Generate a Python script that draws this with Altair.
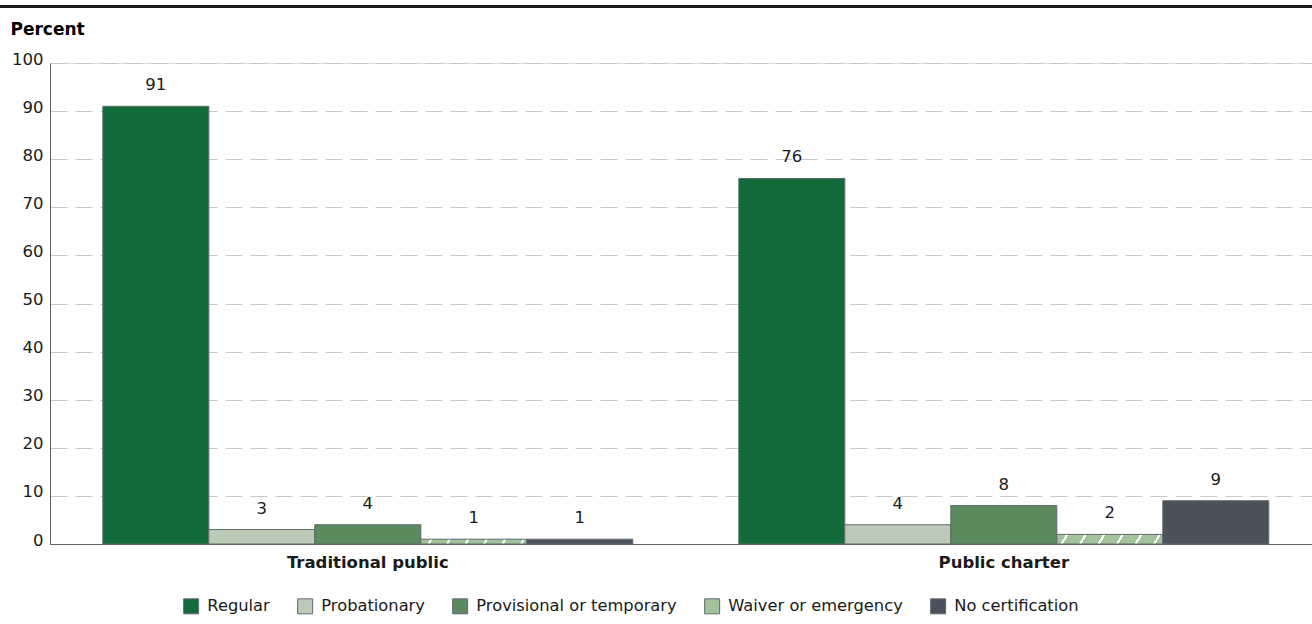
import altair as alt
import pandas as pd

# Share of teachers by certification status, by school sector
categories = ["Traditional public", "Public charter"]
cert_types = ["Regular", "Probationary", "Provisional or temporary",
              "Waiver or emergency", "No certification"]
traditional_pct = [91, 3, 4, 1, 1]
charter_pct = [76, 4, 8, 2, 9]
palette = ["#116b3a", "#bccbb7", "#5b8a5f", "#a3c29c", "#4b525e"]
y_ticks = list(range(0, 101, 10))

rows = []
for sector, values in zip(categories, [traditional_pct, charter_pct]):
    for cert, pct in zip(cert_types, values):
        rows.append({"sector": sector, "cert": cert, "pct": pct})
df = pd.DataFrame(rows)

FONT = "DejaVu Sans"
TEXT = "#1a1a1a"
W, H = 1262, 481
HATCHED = "Waiver or emergency"
HATCH_BASE = palette[cert_types.index(HATCHED)]


def hatch(box_w, box_h, period_px, line_px, slope=1.7):
    """Linear gradient that paints thin white '/' stripes across a box."""
    y2 = box_h / (slope * box_w)
    k = 1 + y2 * y2
    dt = period_px / (box_w * k)
    lw = line_px / (box_w * k)
    stops = [{"offset": 0, "color": HATCH_BASE}]
    a = dt / 2
    while a + lw < 1:
        b = a + lw
        stops += [{"offset": round(a, 4), "color": HATCH_BASE},
                  {"offset": round(a, 4), "color": "#ffffff"},
                  {"offset": round(b, 4), "color": "#ffffff"},
                  {"offset": round(b, 4), "color": HATCH_BASE}]
        a += dt
    stops.append({"offset": 1, "color": HATCH_BASE})
    return {"gradient": "linear", "x1": 0, "y1": 0, "x2": 1, "y2": round(y2, 4),
            "stops": stops}


px_per_unit = H / 100
bar_w = 106
hatch_conditions = []
for sector, values in zip(categories, [traditional_pct, charter_pct]):
    v = values[cert_types.index(HATCHED)]
    hatch_conditions.append({
        "test": f"datum.cert === '{HATCHED}' && datum.sector === '{sector}'",
        "value": hatch(bar_w, v * px_per_unit, 18.5, 2.5),
    })

x_enc = alt.X("sector:N", sort=categories,
              scale=alt.Scale(paddingInner=0.1667, paddingOuter=0.0755, align=0.55),
              axis=alt.Axis(title=None, labelFont=FONT, labelFontSize=16.5,
                            labelFontWeight="bold", labelColor=TEXT, labelPadding=10,
                            ticks=False, domainColor="#5b6168", domainWidth=1,
                            labelAngle=0))
xoff_enc = alt.XOffset("cert:N", sort=cert_types,
                       scale=alt.Scale(paddingInner=0, paddingOuter=0))
y_enc = alt.Y("pct:Q",
              scale=alt.Scale(domain=[0, 100], nice=False),
              axis=alt.Axis(values=y_ticks, title="Percent", titleAngle=0,
                            titleAlign="left", titleBaseline="middle",
                            titleX=-40, titleY=-33.5, titleFont=FONT,
                            titleFontSize=17, titleFontWeight="bold",
                            titleColor="#000000",
                            labelFont=FONT, labelFontSize=16.5, labelColor=TEXT,
                            labelBaseline="alphabetic", labelOffset=1,
                            labelPadding=7, ticks=False,
                            domainColor="#5b6168", domainWidth=1,
                            grid=True, gridColor="#c8c8c8", gridDash=[17, 8],
                            gridWidth=1))

color_enc = alt.Color(
    "cert:N", sort=cert_types,
    scale=alt.Scale(domain=cert_types, range=palette),
    legend=alt.Legend(
        title=None, orient="none", direction="horizontal", columns=5,
        legendX=133, legendY=535, padding=0,
        symbolType="square", symbolSize=225, symbolStrokeColor="#626b70",
        symbolStrokeWidth=1, symbolOpacity=1,
        labelFont=FONT, labelFontSize=16.3, labelColor=TEXT, labelOffset=8,
        columnPadding=25, labelLimit=400,
    ),
    condition=hatch_conditions,
)

bars = alt.Chart(df).mark_bar(stroke="#5f6a6a", strokeWidth=1).encode(
    x=x_enc, xOffset=xoff_enc, y=y_enc, color=color_enc,
)

labels = alt.Chart(df).mark_text(
    dy=-21, baseline="middle", align="center", font=FONT, fontSize=16.5, color=TEXT,
).encode(
    x=alt.X("sector:N", sort=categories), xOffset=alt.XOffset("cert:N", sort=cert_types),
    y="pct:Q", text=alt.Text("pct:Q"),
)

top_rule = alt.Chart(pd.DataFrame({"k": [0]})).mark_rule(
    color="#1a1a1a", strokeWidth=3,
).encode(x=alt.value(-50), x2=alt.value(W), y=alt.value(-56.5))

chart = (
    alt.layer(bars, labels, top_rule)
    .properties(width=W, height=H,
                autosize=alt.AutoSizeParams(type="none"),
                padding={"left": 50, "top": 63, "right": 0, "bottom": 80})
    .configure_view(stroke=None)
    .configure(background="#ffffff")
)

chart.save("out.html", embed_options={"renderer": "svg", "actions": False})
